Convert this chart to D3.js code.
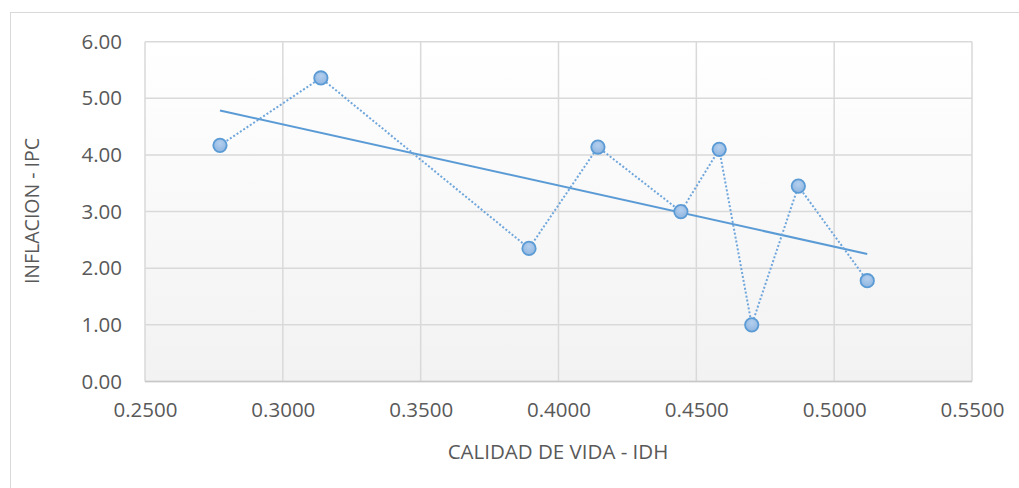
<!DOCTYPE html>
<html>
<head>
<meta charset="utf-8">
<script src="https://cdn.jsdelivr.net/npm/d3@7"></script>
<style>
  html, body { margin: 0; padding: 0; background: #fff; }
  svg { display: block; }
  text { font-family: "Open Sans", "Liberation Sans", sans-serif; fill: #595959; }
</style>
</head>
<body>
<svg id="chart" width="1019" height="488"></svg>
<script>
// Data
const idh = [0.2772, 0.3138, 0.3893, 0.4143, 0.4444, 0.4583, 0.4701, 0.4870, 0.5120];
const ipc = [4.17, 5.36, 2.35, 4.14, 3.00, 4.10, 1.00, 3.45, 1.78];
const xTicks = [0.25, 0.30, 0.35, 0.40, 0.45, 0.50, 0.55];
const yTicks = [0, 1, 2, 3, 4, 5, 6];
const xTitle = "CALIDAD DE VIDA - IDH";
const yTitle = "INFLACION - IPC";

const svg = d3.select("#chart");
const W = 1019, H = 488;
const plot = { left: 145, top: 41.7, right: 972, bottom: 381.5 };

// outer chart border
svg.append("rect")
  .attr("x", 10.5).attr("y", 12.5)
  .attr("width", W + 10).attr("height", H + 10)
  .attr("fill", "#fff").attr("stroke", "#d9d9d9").attr("stroke-width", 1);

const defs = svg.append("defs");
const bg = defs.append("linearGradient").attr("id", "bg")
  .attr("x1", 0).attr("y1", 0).attr("x2", 0).attr("y2", 1);
bg.append("stop").attr("offset", "0%").attr("stop-color", "#ffffff");
bg.append("stop").attr("offset", "100%").attr("stop-color", "#f2f2f2");

const mk = defs.append("radialGradient").attr("id", "mk")
  .attr("cx", "50%").attr("cy", "35%").attr("r", "65%");
mk.append("stop").attr("offset", "0%").attr("stop-color", "#b4cfee");
mk.append("stop").attr("offset", "100%").attr("stop-color", "#8fb5e0");

const x = d3.scaleLinear().domain([0.25, 0.55]).range([plot.left, plot.right]);
const y = d3.scaleLinear().domain([0, 6]).range([plot.bottom, plot.top]);

svg.append("rect")
  .attr("x", plot.left).attr("y", plot.top)
  .attr("width", plot.right - plot.left).attr("height", plot.bottom - plot.top)
  .attr("fill", "url(#bg)");

// gridlines
svg.append("g").selectAll("line").data(yTicks).join("line")
  .attr("x1", plot.left).attr("x2", plot.right)
  .attr("y1", d => y(d)).attr("y2", d => y(d))
  .attr("stroke", "#d9d9d9").attr("stroke-width", 1.5);
svg.append("g").selectAll("line").data(xTicks).join("line")
  .attr("y1", plot.top).attr("y2", plot.bottom)
  .attr("x1", d => x(d)).attr("x2", d => x(d))
  .attr("stroke", "#d9d9d9").attr("stroke-width", 1.5);
// bottom axis line
svg.append("line")
  .attr("x1", plot.left).attr("x2", plot.right)
  .attr("y1", plot.bottom).attr("y2", plot.bottom)
  .attr("stroke", "#c8c8c8").attr("stroke-width", 1.5);

// axes (labels only)
const xAxis = d3.axisBottom(x).tickValues(xTicks).tickFormat(d3.format(".4f")).tickSize(0).tickPadding(21);
const gx = svg.append("g").attr("transform", `translate(0,${plot.bottom})`).call(xAxis);
gx.select(".domain").remove();
gx.selectAll("text").style("font-size", "20.5px").attr("fill", "#595959")
  .style("font-family", '"Open Sans", sans-serif');

const yAxis = d3.axisLeft(y).tickValues(yTicks).tickFormat(d3.format(".2f")).tickSize(0).tickPadding(23);
const gy = svg.append("g").attr("transform", `translate(${plot.left},0)`).call(yAxis);
gy.select(".domain").remove();
gy.selectAll("text").style("font-size", "20.5px").attr("fill", "#595959")
  .style("font-family", '"Open Sans", sans-serif');

// axis titles
svg.append("text").attr("x", 558).attr("y", 459).attr("text-anchor", "middle")
  .style("font-size", "20.5px").text(xTitle);
svg.append("text").attr("transform", "translate(39,211) rotate(-90)")
  .attr("text-anchor", "middle").style("font-size", "19.5px").text(yTitle);

const pts = idh.map((v, i) => [v, ipc[i]]);

// linear trendline (least squares)
const mx = d3.mean(idh), my = d3.mean(ipc);
const slope = d3.sum(pts, p => (p[0] - mx) * (p[1] - my)) / d3.sum(idh, v => (v - mx) ** 2);
const icpt = my - slope * mx;
const [x0, x1] = d3.extent(idh);
svg.append("line")
  .attr("x1", x(x0)).attr("y1", y(icpt + slope * x0))
  .attr("x2", x(x1)).attr("y2", y(icpt + slope * x1))
  .attr("stroke", "#5b9bd5").attr("stroke-width", 2);

// dotted connecting line
svg.append("path")
  .datum(pts)
  .attr("d", d3.line().x(d => x(d[0])).y(d => y(d[1])))
  .attr("fill", "none").attr("stroke", "#6fa6dc").attr("stroke-width", 2)
  .attr("stroke-dasharray", "2,2");

// markers
svg.append("g").selectAll("circle").data(pts).join("circle")
  .attr("cx", d => x(d[0])).attr("cy", d => y(d[1])).attr("r", 6.7)
  .attr("fill", "url(#mk)").attr("stroke", "#5b9bd5").attr("stroke-width", 1.8);
</script>
</body>
</html>
